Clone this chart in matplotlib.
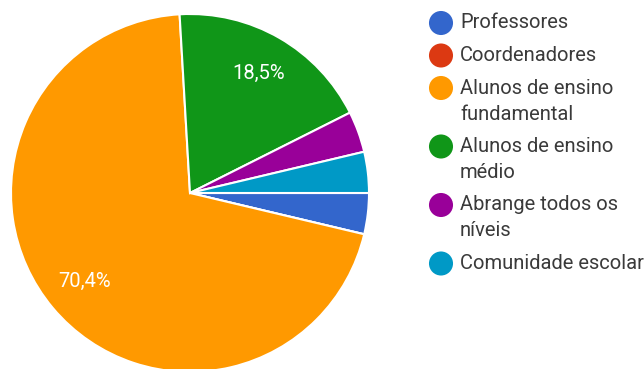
import matplotlib.pyplot as plt

# respostas por público-alvo
categorias = ['Professores', 'Coordenadores', 'Alunos de ensino fundamental',
              'Alunos de ensino médio', 'Abrange todos os níveis', 'Comunidade escolar']
rotulos_legenda = [['Professores'], ['Coordenadores'],
                   ['Alunos de ensino', 'fundamental'],
                   ['Alunos de ensino', 'médio'],
                   ['Abrange todos os', 'níveis'],
                   ['Comunidade escolar']]
respostas = [1, 0, 19, 5, 1, 1]
cores = ['#3366cc', '#dc3912', '#ff9900', '#109618', '#990099', '#0099c6']

plt.rcParams['font.family'] = ['Roboto', 'DejaVu Sans']

W, H = 644, 369
fig = plt.figure(figsize=(W / 100, H / 100), dpi=100)
ax = fig.add_axes([0, 0, 1, 1])
ax.axis('off')


def rotulo(pct):
    # fatias pequenas ficam sem texto
    return f'{pct:.1f}%'.replace('.', ',') if pct > 5 else ''


wedges, textos, autotextos = ax.pie(
    respostas, colors=cores, startangle=0, counterclock=False,
    center=(190, H - 193), radius=179, autopct=rotulo, pctdistance=0.77,
    wedgeprops=dict(edgecolor='white', linewidth=1.5),
    textprops=dict(color='white', fontsize=14.5))
ax.set_xlim(0, W)
ax.set_ylim(0, H)

# legenda desenhada à mão, com quebra de linha
y = 23
for cor, linhas in zip(cores, rotulos_legenda):
    ax.scatter([441], [H - y], s=300, color=cor, edgecolors='none', zorder=3)
    for i, linha in enumerate(linhas):
        ax.text(460, H - (y + 26 * i), linha, fontsize=14.5, color='#3a3a3a',
                va='center', ha='left')
    y += 26 * (len(linhas) - 1) + 32.5

fig.savefig('out.png', dpi=100)
